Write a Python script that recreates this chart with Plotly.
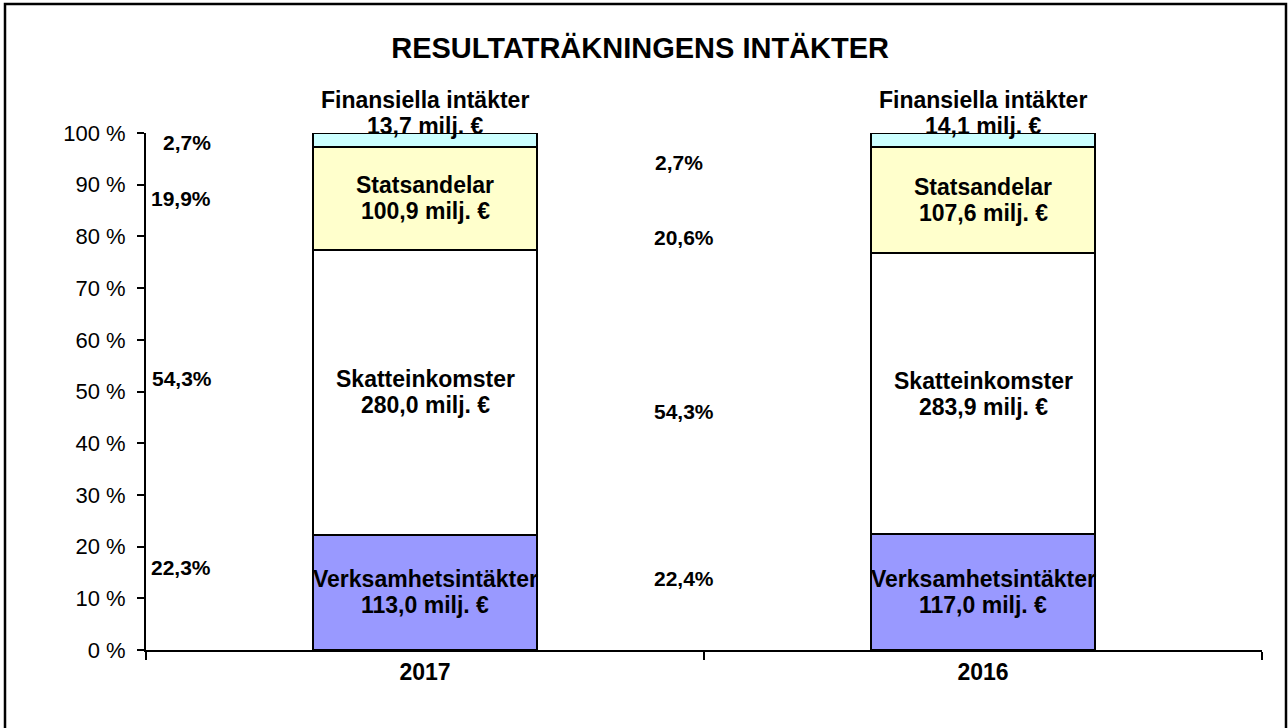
import plotly.graph_objects as go

years = ["2017", "2016"]
series_names = ["Verksamhetsintäkter", "Skatteinkomster", "Statsandelar", "Finansiella intäkter"]
verksamhet = [113.0, 117.0]
skatte = [280.0, 283.9]
statsandelar = [100.9, 107.6]
finansiella = [13.7, 14.1]
colors = ["#9999FF", "#FFFFFF", "#FFFFCC", "#CCFFFF"]

share_labels_2017 = ["22,3%", "54,3%", "19,9%", "2,7%"]
share_labels_2016 = ["22,4%", "54,3%", "20,6%", "2,7%"]
# placement of the share labels (y in % of axis)
share_y_2017 = [15.9, 52.6, 87.4, 98.1]
share_y_2016 = [13.9, 46.2, 79.7, 94.2]
share_x_2017 = [-0.437, -0.435, -0.438, -0.427]
share_x_2016 = [0.464, 0.464, 0.464, 0.455]

title = "RESULTATRÄKNINGENS INTÄKTER"
FONT = "Liberation Sans, Arial, sans-serif"
LINE_H = 26

series = [verksamhet, skatte, statsandelar, finansiella]

fig = go.Figure()
for name, vals, col in zip(series_names, series, colors):
    fig.add_trace(go.Bar(
        x=years, y=vals, name=name,
        marker=dict(color=col, line=dict(color="black", width=2)),
        width=0.4, hoverinfo="skip", showlegend=False,
    ))

def fmt(v):
    return f"{v:.1f}".replace(".", ",") + " milj. €"

annotations = []

def two_lines(x, y, l1, l2, base_shift=0):
    for txt, sh in ((l1, LINE_H / 2), (l2, -LINE_H / 2)):
        annotations.append(dict(
            x=x, y=y, xref="x", yref="y", text=f"<b>{txt}</b>",
            showarrow=False, font=dict(family=FONT, size=23, color="black"),
            xanchor="center", yanchor="middle", yshift=sh + base_shift))

for i, yr in enumerate(years):
    total = sum(s[i] for s in series)
    cum = 0.0
    for k, (name, vals) in enumerate(zip(series_names, series)):
        pct = vals[i] / total * 100
        mid = cum + pct / 2
        cum += pct
        if k < 3:
            two_lines(i, mid, name, fmt(vals[i]))
        else:
            two_lines(i, 100, name, fmt(vals[i]), base_shift=20)

for labels, ys, xs in ((share_labels_2017, share_y_2017, share_x_2017),
                       (share_labels_2016, share_y_2016, share_x_2016)):
    for t, yv, xv in zip(labels, ys, xs):
        annotations.append(dict(
            x=xv, y=yv, xref="x", yref="y", text=f"<b>{t}</b>", showarrow=False,
            font=dict(family=FONT, size=21, color="black"),
            xanchor="center", yanchor="middle"))

fig.update_layout(
    width=1288, height=728,
    margin=dict(l=146, r=26, t=133, b=78),
    paper_bgcolor="white", plot_bgcolor="white",
    barmode="stack", barnorm="percent",
    title=dict(text=f"<b>{title}</b>", x=0.497, xanchor="center",
               y=1 - 48 / 728, yanchor="middle",
               font=dict(family=FONT, size=29, color="black")),
    xaxis=dict(type="category", range=[-0.5, 1.5], showline=True, linecolor="black",
               linewidth=2, ticks="outside", tickson="boundaries", ticklen=8,
               tickwidth=2, tickcolor="black", showgrid=False,
               tickfont=dict(family=FONT, size=23, color="black"),
               tickvals=years, ticktext=[f"<b>{y}</b>" for y in years]),
    yaxis=dict(range=[0, 100], dtick=10, ticksuffix=" %", showline=True,
               linecolor="black", linewidth=2, ticks="outside", ticklen=7,
               tickwidth=2, tickcolor="black", showgrid=False, zeroline=False,
               ticklabelstandoff=7,
               tickfont=dict(family=FONT, size=22, color="black")),
    annotations=annotations,
    shapes=[dict(type="rect", xref="paper", yref="paper",
                 x0=(5 - 146) / 1116, x1=(1286 - 146) / 1116,
                 y0=(650 - 735) / 517, y1=(650 - 4) / 517,
                 line=dict(color="black", width=2.5), layer="above")],
)

fig.write_html("out.html", config={"displayModeBar": False},
               post_script="document.body.style.margin='0';document.body.style.overflow='hidden';")
